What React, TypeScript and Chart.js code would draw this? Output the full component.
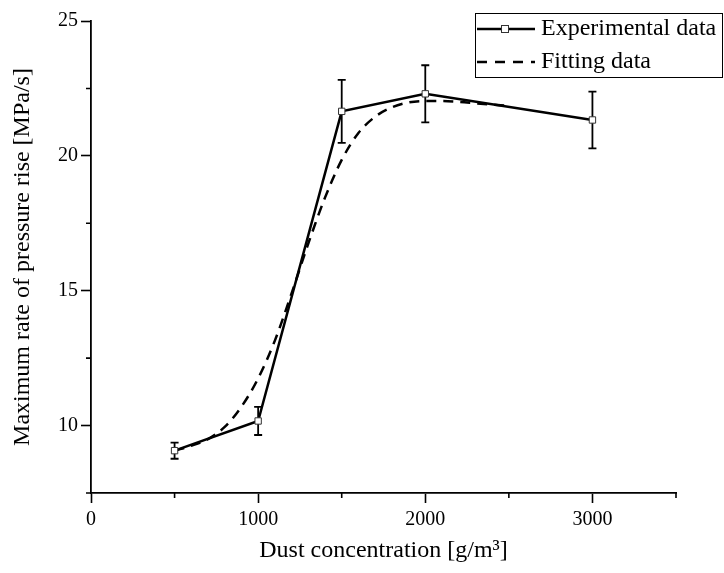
import { useEffect, useRef } from 'react';
import { Chart, registerables } from 'chart.js';

Chart.register(...registerables);

// ---- data ----
const concentrations = [500, 1000, 1500, 2000, 3000];
const experimentalRates = [9.07, 10.17, 21.65, 22.3, 21.33];
const experimentalErrors = [0.3, 0.52, 1.17, 1.06, 1.05];

const fittingConcentrations = [
  500, 600, 700, 800, 900, 1000, 1100, 1200, 1300, 1400, 1500,
  1600, 1700, 1800, 1900, 2000, 2100, 2200, 2300, 2400, 2500,
];
const fittingRates = [
  9.07, 9.25, 9.5, 9.95, 10.7, 11.75, 13.15, 14.9, 16.75, 18.45, 19.85,
  20.85, 21.45, 21.8, 21.98, 22.03, 22.03, 22.0, 21.95, 21.9, 21.85,
];

const xTickLabels = ['0', '1000', '2000', '3000'];
const yTickLabels = ['10', '15', '20', '25'];
const xMinorTicks = [500, 1500, 2500, 3500];
const yMinorTicks = [7.5, 12.5, 17.5, 22.5];

const seriesNames = ['Experimental data', 'Fitting data'];
const xTitle = 'Dust concentration [g/m\u00B3]';
const yTitle = 'Maximum rate of pressure rise [MPa/s]';

const FONT = '"Liberation Serif", "Times New Roman", serif';

const errorBarPlugin = {
  id: 'errorBars',
  beforeDatasetsDraw(chart: any) {
    const { ctx, scales } = chart;
    const xs = scales.x;
    const ys = scales.y;
    ctx.save();
    ctx.strokeStyle = '#000';
    ctx.lineWidth = 1.8;
    concentrations.forEach((c, i) => {
      const px = xs.getPixelForValue(c);
      const top = ys.getPixelForValue(experimentalRates[i] + experimentalErrors[i]);
      const bot = ys.getPixelForValue(experimentalRates[i] - experimentalErrors[i]);
      ctx.beginPath();
      ctx.moveTo(px, top);
      ctx.lineTo(px, bot);
      ctx.moveTo(px - 4, top);
      ctx.lineTo(px + 4, top);
      ctx.moveTo(px - 4, bot);
      ctx.lineTo(px + 4, bot);
      ctx.stroke();
    });
    ctx.restore();
  },
};

const minorTickPlugin = {
  id: 'minorTicks',
  afterDraw(chart: any) {
    const { ctx, scales, chartArea } = chart;
    ctx.save();
    ctx.strokeStyle = '#000';
    ctx.lineWidth = 1.6;
    ctx.beginPath();
    xMinorTicks.forEach((v) => {
      const px = scales.x.getPixelForValue(v);
      ctx.moveTo(px, chartArea.bottom);
      ctx.lineTo(px, chartArea.bottom + 5);
    });
    yMinorTicks.forEach((v) => {
      const py = scales.y.getPixelForValue(v);
      ctx.moveTo(chartArea.left, py);
      ctx.lineTo(chartArea.left - 5, py);
    });
    ctx.stroke();
    ctx.restore();
  },
};

const legendPlugin = {
  id: 'boxLegend',
  afterDraw(chart: any) {
    const { ctx, chartArea, width } = chart;
    const left = chartArea.right - 201;
    const top = chartArea.top - 8;
    const right = width - 1;
    const h = 64;
    ctx.save();
    ctx.fillStyle = '#fff';
    ctx.fillRect(left, top, right - left, h);
    ctx.strokeStyle = '#000';
    ctx.lineWidth = 1;
    ctx.strokeRect(left + 0.5, top + 0.5, right - left - 1, h);

    const rows = [top + 16, top + 49];
    ctx.lineWidth = 2.5;
    ctx.setLineDash([]);
    ctx.beginPath();
    ctx.moveTo(left + 2, rows[0]);
    ctx.lineTo(left + 60, rows[0]);
    ctx.stroke();
    ctx.fillStyle = '#fff';
    ctx.fillRect(left + 26, rows[0] - 4, 8, 8);
    ctx.lineWidth = 1;
    ctx.strokeStyle = '#333';
    ctx.strokeRect(left + 26.5, rows[0] - 3.5, 7, 7);
    ctx.strokeStyle = '#000';
    ctx.lineWidth = 2.5;
    ctx.setLineDash([10, 8]);
    ctx.beginPath();
    ctx.moveTo(left + 2, rows[1]);
    ctx.lineTo(left + 60, rows[1]);
    ctx.stroke();
    ctx.setLineDash([]);

    ctx.fillStyle = '#000';
    ctx.font = `24px ${FONT}`;
    ctx.textBaseline = 'middle';
    ctx.textAlign = 'left';
    ctx.fillText(seriesNames[0], left + 66, rows[0]);
    ctx.fillText(seriesNames[1], left + 66, rows[1]);
    ctx.restore();
  },
};

export default function App() {
  const canvasRef = useRef<HTMLCanvasElement | null>(null);

  useEffect(() => {
    const canvas = canvasRef.current;
    if (!canvas) return;
    const chart = new Chart(canvas, {
      type: 'line',
      data: {
        datasets: [
          {
            label: seriesNames[0],
            data: concentrations.map((c, i) => ({ x: c, y: experimentalRates[i] })),
            borderColor: '#000',
            borderWidth: 2.5,
            tension: 0,
            pointStyle: 'rect',
            pointRadius: 4.5,
            pointBackgroundColor: '#fff',
            pointBorderColor: '#333',
            pointBorderWidth: 1,
            order: 1,
          },
          {
            label: seriesNames[1],
            data: fittingConcentrations.map((c, i) => ({ x: c, y: fittingRates[i] })),
            borderColor: '#000',
            borderWidth: 2.5,
            borderDash: [10, 7],
            cubicInterpolationMode: 'monotone',
            pointRadius: 0,
            order: 2,
          },
        ],
      },
      options: {
        responsive: false,
        animation: false,
        devicePixelRatio: 1,
        layout: { padding: { top: 21, right: 48, left: 0, bottom: 0 } },
        plugins: {
          legend: { display: false },
          tooltip: { enabled: false },
        },
        scales: {
          x: {
            type: 'linear',
            min: 0,
            max: 3500,
            afterFit: (scale: any) => {
              scale.height = 80;
            },
            ticks: {
              stepSize: 500,
              autoSkip: false,
              maxRotation: 0,
              padding: 5,
              color: '#000',
              font: { family: FONT, size: 20 },
              callback: (v: any) => (xTickLabels.includes(String(v)) ? String(v) : ''),
            },
            grid: {
              drawOnChartArea: false,
              drawTicks: true,
              tickLength: 10,
              tickWidth: 1.6,
              tickColor: (ctx: any) =>
                ctx.tick && xTickLabels.includes(String(ctx.tick.value)) ? '#000' : 'rgba(0,0,0,0)',
            },
            border: { display: true, color: '#000', width: 1.8 },
            title: {
              display: true,
              text: xTitle,
              color: '#000',
              font: { family: FONT, size: 24 },
              padding: { top: 0, bottom: 8 },
            },
          },
          y: {
            type: 'linear',
            min: 7.5,
            max: 25,
            afterFit: (scale: any) => {
              scale.width = 91;
            },
            ticks: {
              stepSize: 2.5,
              autoSkip: false,
              padding: 3,
              color: '#000',
              font: { family: FONT, size: 20 },
              callback: (v: any) => (yTickLabels.includes(String(v)) ? String(v) : ''),
            },
            grid: {
              drawOnChartArea: false,
              drawTicks: true,
              tickLength: 10,
              tickWidth: 1.6,
              tickColor: (ctx: any) =>
                ctx.tick && yTickLabels.includes(String(ctx.tick.value)) ? '#000' : 'rgba(0,0,0,0)',
            },
            border: { display: true, color: '#000', width: 1.8 },
            title: {
              display: true,
              text: yTitle,
              color: '#000',
              font: { family: FONT, size: 24 },
              padding: { top: 8, bottom: 0 },
            },
          },
        },
      },
      plugins: [errorBarPlugin, minorTickPlugin, legendPlugin],
    } as any);
    return () => chart.destroy();
  }, []);

  return (
    <div style={{ position: 'absolute', left: 0, top: 0, width: 724, height: 573, background: '#fff' }}>
      <canvas ref={canvasRef} width={724} height={573} />
    </div>
  );
}
